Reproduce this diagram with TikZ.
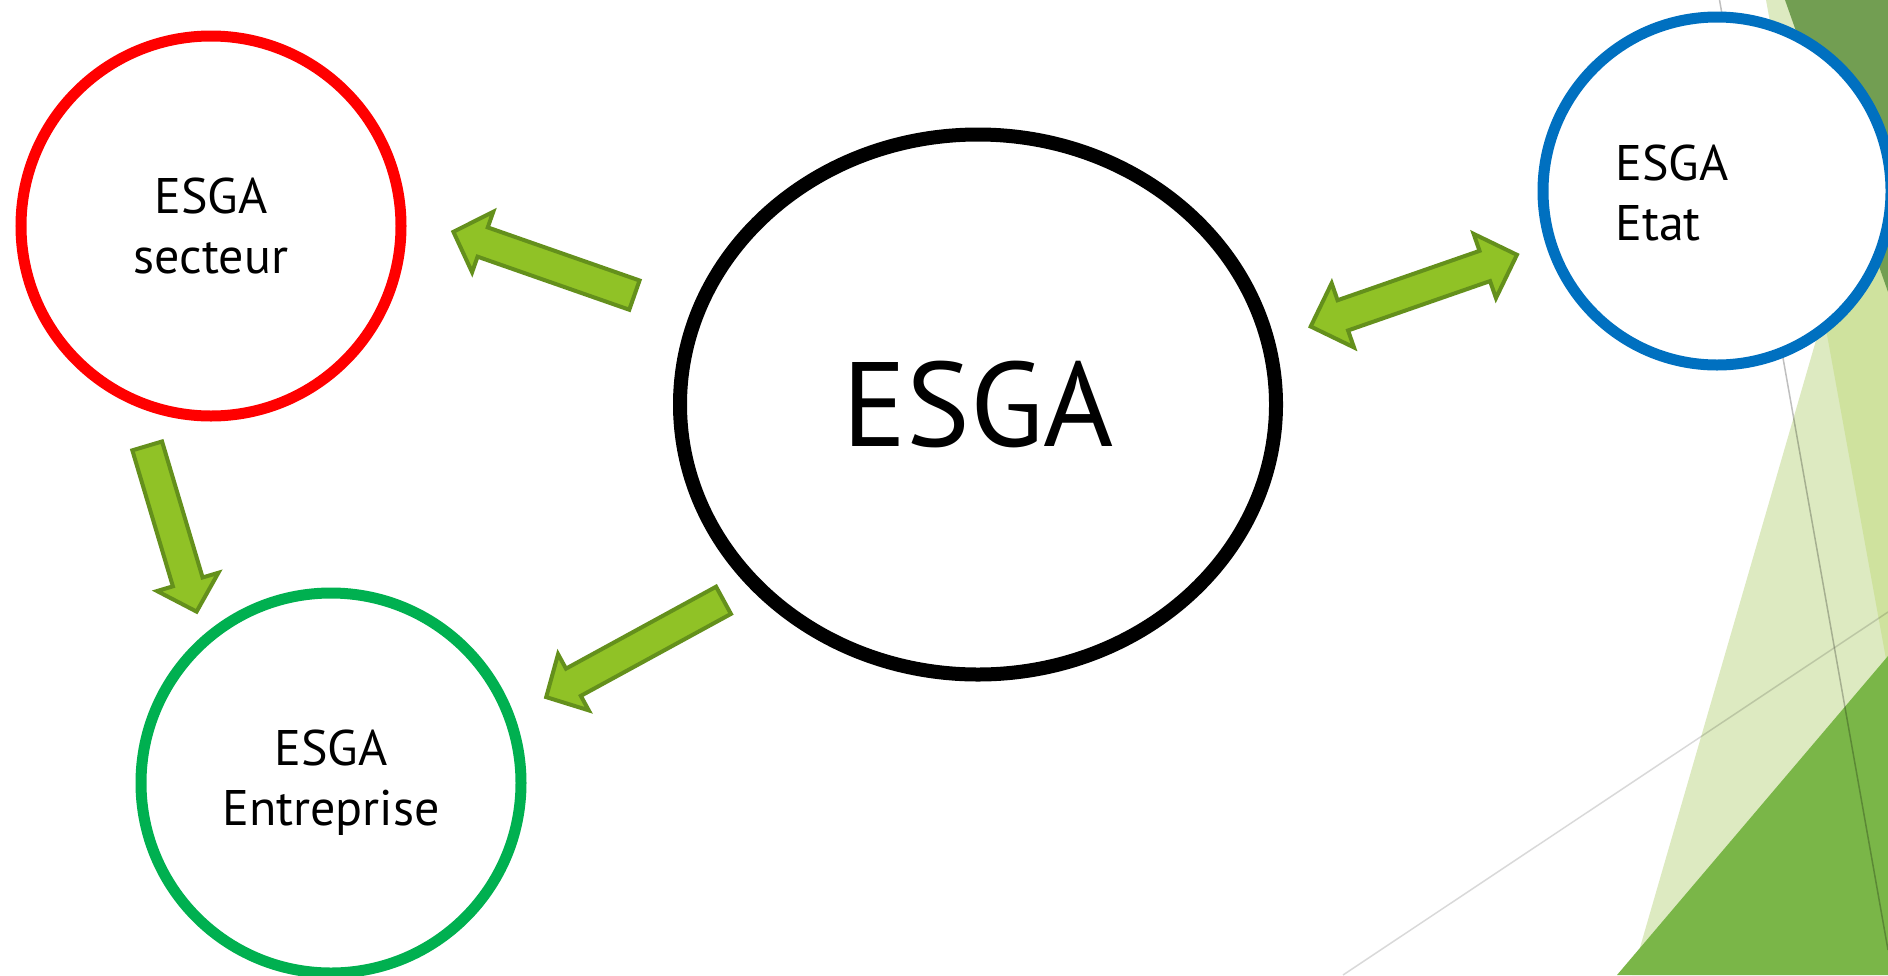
\documentclass[tikz,border=0pt]{standalone}
\usepackage{fontspec}
\setmainfont{PT Sans}
\usetikzlibrary{calc,shapes.geometric}

\definecolor{arrowfill}{HTML}{90C226}
\definecolor{arrowline}{HTML}{64901C}
\definecolor{facetpale}{HTML}{DDEAC1}
\definecolor{facetmid}{HTML}{CFE29E}
\definecolor{facetdark}{HTML}{729E52}
\definecolor{facetgreen}{HTML}{7AB648}
\definecolor{ringred}{HTML}{FF0000}
\definecolor{ringgreen}{HTML}{00B050}
\definecolor{ringblue}{HTML}{0070C0}

\newcommand\ringfont{\fontsize{25}{30}\selectfont}
\newcommand\hubfont{\fontsize{60}{72}\selectfont}

\tikzset{
  ring/.style={circle, draw=#1, line width=5.5pt, fill=white,
    minimum size=190pt, inner sep=0pt, align=center, font=\ringfont},
  hub/.style={ellipse, draw=black, line width=7pt, fill=white,
    minimum width=298pt, minimum height=270pt, inner sep=0pt, font=\hubfont},
  blockarrow/.style={fill=arrowfill, draw=arrowline, line width=2pt,
    line join=miter},
  guide/.style={draw=black, line width=0.75pt},
}

% block arrow from tail #1 to tip #2
\newcommand\singlearrow[2]{%
  \coordinate (hb) at ($(#2)!15.5pt!(#1)$);
  \path[blockarrow]
    ($(#1)!7.75pt!90:(#2)$) -- ($(hb)!7.75pt!90:(#2)$) --
    ($(hb)!16pt!90:(#2)$) -- (#2) --
    ($(hb)!16pt!-90:(#2)$) -- ($(hb)!7.75pt!-90:(#2)$) --
    ($(#1)!7.75pt!-90:(#2)$) -- cycle;
}
% block arrow with heads at both ends #1 and #2
\newcommand\doublearrow[2]{%
  \coordinate (ha) at ($(#1)!17pt!(#2)$);
  \coordinate (hb) at ($(#2)!17pt!(#1)$);
  \path[blockarrow]
    (#1) -- ($(ha)!17pt!90:(#2)$) -- ($(ha)!8pt!90:(#2)$) --
    ($(hb)!8pt!90:(#2)$) -- ($(hb)!17pt!90:(#2)$) -- (#2) --
    ($(hb)!17pt!-90:(#2)$) -- ($(hb)!8pt!-90:(#2)$) --
    ($(ha)!8pt!-90:(#2)$) -- ($(ha)!17pt!-90:(#2)$) -- cycle;
}

\begin{document}
\begin{tikzpicture}[x=0.5pt, y=-0.5pt]
  \useasboundingbox (0,0) rectangle (1888,975);
  \fill[white] (0,0) rectangle (1888,975);

  % facets on the right edge
  \fill[facetpale] (1766,0) -- (1888,0) -- (1888,670) -- cycle;
  \fill[facetpale] (1632,975) -- (1888,92) -- (1888,975) -- cycle;
  \fill[facetmid] (1888,92) -- (1823.4,315) -- (1888,670) -- cycle;
  \fill[facetdark] (1785,0) -- (1888,0) -- (1888,292) -- cycle;
  \fill[facetgreen] (1617,975) -- (1888,656) -- (1888,975) -- cycle;
  \draw[guide, opacity=0.25] (1719.5,0) -- (1888,950);
  \draw[guide, opacity=0.15] (1343,975) -- (1888,612);

  % nodes
  \node[hub] (esga) at (978,404.5) {ESGA};
  \node[ring=ringred] (sect) at (211,226) {ESGA\\secteur};
  \node[ring=ringgreen] (entr) at (331,783) {ESGA\\Entreprise};
  \node[ring=ringblue, minimum size=174pt] (etat) at (1717,191) {};
  \node[anchor=west, align=left, inner sep=0pt, font=\ringfont]
    (etatlabel) at (1615,192.5) {ESGA\\Etat};

  % arrow end points
  \coordinate (a1t) at (634.4,295.1);
  \coordinate (a1h) at (453.4,231.8);
  \coordinate (a2t) at (147.2,445.9);
  \coordinate (a2h) at (196.6,611.6);
  \coordinate (a3t) at (723.5,600.3);
  \coordinate (a3h) at (546.2,697.1);
  \coordinate (a4a) at (1310.7,326.5);
  \coordinate (a4b) at (1516.9,254.8);

  \singlearrow{a1t}{a1h}
  \singlearrow{a2t}{a2h}
  \singlearrow{a3t}{a3h}
  \doublearrow{a4a}{a4b}
\end{tikzpicture}
\end{document}
